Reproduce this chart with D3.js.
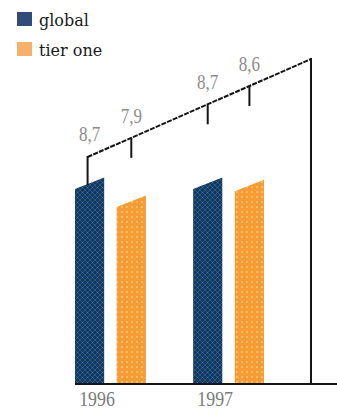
<!DOCTYPE html>
<html><head><meta charset="utf-8">
<script src="https://cdn.jsdelivr.net/npm/d3@7"></script>
<style>html,body{margin:0;padding:0;background:#fff;}svg{display:block;}</style>
</head><body>
<svg id="c" width="337" height="412"></svg>
<script>
const years = ["1996", "1997"];
const series = ["global", "tier one"];
const globalValues = [8.7, 8.7];
const tierOneValues = [7.9, 8.6];
const valueLabels = [["8,7", "7,9"], ["8,7", "8,6"]];
const colors = {"global": "#2f4d78", "tier one": "#f5b06b"};

const svg = d3.select("#c");
const defs = svg.append("defs");
const pg = defs.append("pattern").attr("id","pg").attr("patternUnits","userSpaceOnUse").attr("width",5).attr("height",5);
pg.append("rect").attr("width",5).attr("height",5).attr("fill","#12366a");
pg.append("path").attr("d","M0,0L5,5M5,0L0,5").attr("stroke","#2b5f6c").attr("stroke-width",0.9);
pg.append("rect").attr("x",2).attr("y",2).attr("width",1).attr("height",1).attr("fill","#3d7fb0");
const po = defs.append("pattern").attr("id","po").attr("patternUnits","userSpaceOnUse").attr("width",5).attr("height",5);
po.append("rect").attr("width",5).attr("height",5).attr("fill","#f89b33");
po.append("rect").attr("x",1).attr("y",1).attr("width",2).attr("height",2).attr("fill","#f9bd68");
po.append("rect").attr("x",3).attr("y",3).attr("width",1).attr("height",1).attr("fill","#dca645");
const fills = {"global":"url(#pg)", "tier one":"url(#po)"};

const baseY = 384, frameRight = 311;
const x0 = d3.scaleBand().domain(years).range([75, 264]).paddingInner(0.4);
const x1 = d3.scaleBand().domain(series).range([0, x0.bandwidth()]).paddingInner(0.3);
const y = d3.scaleLinear().domain([0, 8.7]).range([baseY, 189]);
const slant = 0.39;

const rows = years.map((yr, i) => ({year: yr, values: [
  {key: "global", v: globalValues[i], label: valueLabels[i][0]},
  {key: "tier one", v: tierOneValues[i], label: valueLabels[i][1]}
]}));

const g = svg.append("g");
rows.forEach(r => {
  r.values.forEach(d => {
    const xl = x0(r.year) + x1(d.key), xr = xl + x1.bandwidth();
    const top = y(d.v);
    g.append("path")
      .attr("d", `M${xl},${baseY}L${xl},${top}L${xr},${top - x1.bandwidth()*slant}L${xr},${baseY}Z`)
      .attr("fill", fills[d.key]);
    d.cx = xl + x1.bandwidth()/2;
  });
});

const ticks = rows.flatMap(r => r.values);
const lineStart = {x: ticks[0].cx - 2, y: 157};
const lineEnd = {x: frameRight, y: 59};
const lineY = d3.scaleLinear().domain([lineStart.x, lineEnd.x]).range([lineStart.y, lineEnd.y]);

const lg = svg.append("g").attr("stroke","#151515").attr("stroke-width",2).attr("fill","none");
lg.append("line").attr("x1",lineStart.x).attr("y1",lineStart.y).attr("x2",lineEnd.x).attr("y2",lineEnd.y)
  .attr("stroke-dasharray","5,1.2");
lg.append("line").attr("x1",frameRight).attr("y1",lineEnd.y-1).attr("x2",frameRight).attr("y2",baseY);
lg.append("line").attr("x1",x0.range()[0]).attr("y1",baseY).attr("x2",337).attr("y2",baseY);
ticks.forEach((d, i) => {
  const tx = i === 0 ? lineStart.x : d.cx;
  const ly = lineY(tx);
  const bottom = i === 0 ? y(d.v) - 4 : ly + 20;
  lg.append("line").attr("x1",tx).attr("y1",ly - (i === 0 ? 1 : 0)).attr("x2",tx).attr("y2",bottom);
});

ticks.forEach(d => {
  const ly = lineY(d.cx) - 15;
  svg.append("text").attr("transform",`translate(${d.cx},${ly}) scale(0.85,1)`)
    .attr("text-anchor","middle").attr("font-family","Liberation Serif").attr("font-size",20)
    .attr("fill","#8c8c8c").text(d.label);
});

years.forEach(yr => {
  svg.append("text").attr("transform",`translate(${x0(yr) + 22},${406}) scale(0.85,1)`)
    .attr("text-anchor","middle").attr("font-family","Liberation Serif").attr("font-size",21)
    .attr("fill","#7a7a7a").text(yr);
});

series.forEach((s, i) => {
  const ly = 12 + i*30;
  svg.append("rect").attr("x",17).attr("y",ly).attr("width",15).attr("height",14).attr("fill",colors[s]);
  svg.append("text").attr("x",39).attr("y",ly+14).attr("font-family","DejaVu Serif").attr("font-size",16)
    .attr("fill","#1a1a1a").text(s);
});
</script>
</body></html>
